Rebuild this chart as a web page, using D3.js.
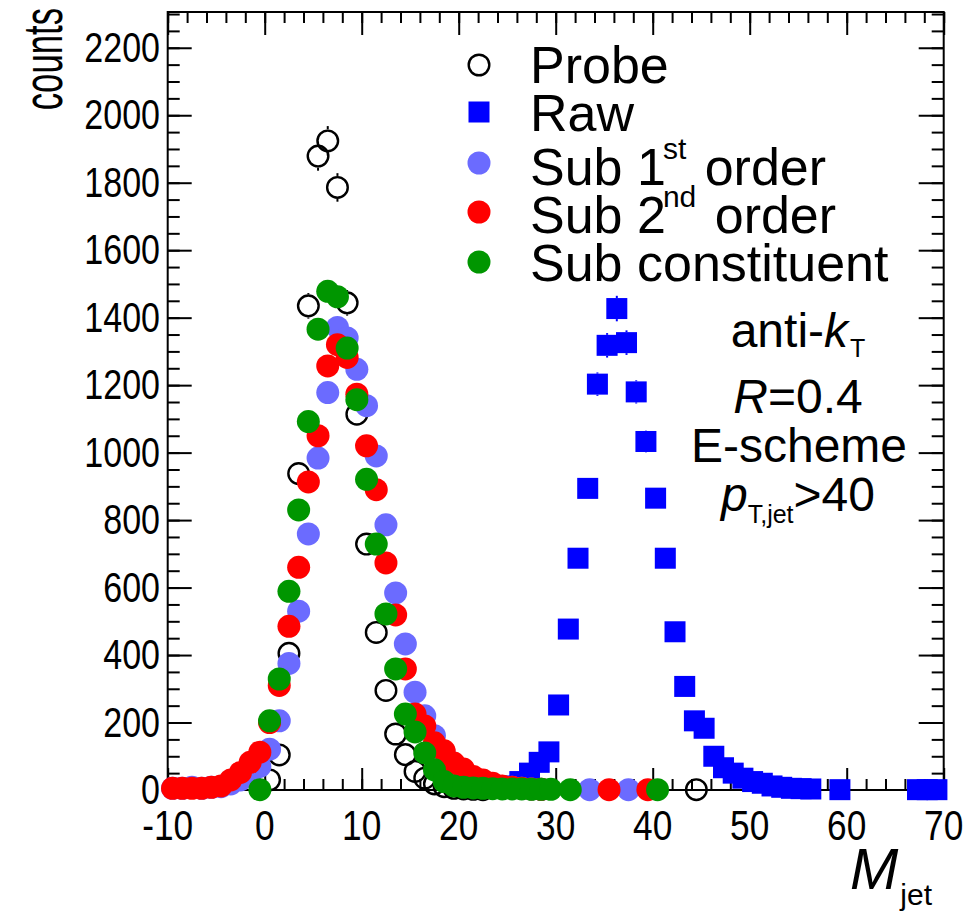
<!DOCTYPE html>
<html>
<head>
<meta charset="utf-8">
<script src="https://cdn.jsdelivr.net/npm/d3@7"></script>
<style>
body { margin: 0; background: #fff; }
text { font-family: "Liberation Sans", Arial, sans-serif; fill: #000; }
</style>
</head>
<body>
<svg id="chart" width="974" height="912"></svg>
<script>
// bin centres shared by probe and the three subtracted series
const binCenters = [-9.5, -8.5, -7.5, -6.5, -5.5, -4.5, -3.5, -2.5, -1.5, -0.5,
    0.5, 1.5, 2.5, 3.5, 4.5, 5.5, 6.5, 7.5, 8.5, 9.5,
    10.5, 11.5, 12.5, 13.5, 14.5, 15.5, 16.5, 17.5, 18.5, 19.5,
    20.5, 21.5, 22.5, 23.5, 24.5, 25.5, 26.5, 27.5, 28.5, 29.5,
    30.5, 31.5, 32.5, 33.5, 34.5, 35.5, 36.5, 37.5, 38.5, 39.5,
    40.5, 41.5, 42.5, 43.5, 44.5];

const probe = [null, null, null, null, null, null, null, null, null, null,
    30, 104, 405, 938, 1435, 1879, 1924, 1786, 1444, 1114,
    729, 467, 295, 166, 105, 55, 35, 18, 10, 5,
    3, 2, 1, null, null, null, null, null, null, null,
    null, null, null, null, null, null, null, null, null, null,
    null, null, null, null, 1];

const sub1st = [5, 5, 8, 5, 8, 10, 18, 30, 45, 70,
    121, 205, 375, 530, 759, 984, 1178, 1371, 1340, 1247,
    1139, 990, 786, 584, 433, 290, 220, 161, 111, 75,
    50, 35, 25, 15, 10, 8, 5, 3, 2, null,
    null, null, null, 1, null, null, null, 1, null, null,
    null, null, null, null, null];

const sub2nd = [5, 5, 5, 5, 8, 12, 30, 52, 82, 112,
    200, 310, 485, 660, 913, 1050, 1257, 1320, 1282, 1173,
    1020, 890, 673, 519, 359, 225, 190, 140, 116, 80,
    62, 40, 30, 20, 12, 8, 5, 3, 2, null,
    null, null, null, null, null, 1, null, null, null, 1,
    null, null, null, null, null];

const subConst = [null, null, null, null, null, null, null, null, null, 1,
    205, 329, 589, 830, 1092, 1366, 1478, 1462, 1310, 1157,
    921, 729, 522, 359, 225, 172, 110, 60, 25, 12,
    8, 6, 5, 4, 3, 3, 3, 2, 2, 2,
    null, 1, null, null, null, null, null, null, null, null,
    1, null, null, null, null];

// raw histogram sits on its own (shifted) grid
const rawX = [24.3, 25.3, 26.3, 27.3, 28.3, 29.3, 30.3, 31.3, 32.3, 33.3,
    34.3, 35.3, 36.3, 37.3, 38.3, 39.3, 40.3, 41.3, 42.3, 43.3,
    44.3, 45.3, 46.3, 47.3, 48.3, 49.3, 50.3, 51.3, 52.3, 53.3,
    54.3, 55.3, 56.3, 59.3, 67.3, 68.3, 69.3];
const raw = [5, 12, 25, 50, 82, 113, 252, 477, 687, 894,
    1203, 1318, 1427, 1326, 1180, 1033, 865, 687, 469, 307,
    205, 183, 100, 66, 50, 35, 25, 20, 12, 8,
    5, 4, 3, 1, 1, 1, 1];

const xMajor = [-10, 0, 10, 20, 30, 40, 50, 60, 70];
const yMajor = [0, 200, 400, 600, 800, 1000, 1200, 1400, 1600, 1800, 2000, 2200];

const legendItems = [
    {name: "Probe", kind: "open", color: "#000"},
    {name: "Raw", kind: "square", color: "#0000ff"},
    {name: "Sub 1", sup: "st", after: " order", kind: "dot", color: "#6b6bff"},
    {name: "Sub 2", sup: "nd", after: " order", kind: "dot", color: "#ff0000"},
    {name: "Sub constituent", kind: "dot", color: "#009600"}
];

const svg = d3.select("#chart");
const frameL = 167.7, frameR = 943.7, frameT = 12, frameB = 790;

const x = d3.scaleLinear().domain([-10, 70]).range([frameL, frameR]);
const y = d3.scaleLinear().domain([0, 2306]).range([frameB, frameT]);

const xMinor = d3.range(-10, 70.01, 2);
const yMinor = d3.range(0, 2306, 50);

// ticks, ROOT style: inside on all four sides
function tickAxis(axis, pos, vals, len) {
    let g = svg.append("g").attr("transform", pos)
        .call(axis.tickValues(vals).tickSize(-len).tickFormat(""));
    g.select(".domain").remove();
    g.selectAll(".tick line").attr("stroke", "#000").attr("stroke-width", 2);
    return g;
}
tickAxis(d3.axisBottom(x), `translate(0,${frameB})`, xMinor, 11);
tickAxis(d3.axisBottom(x), `translate(0,${frameB})`, xMajor, 22);
tickAxis(d3.axisTop(x), `translate(0,${frameT})`, xMinor, 11);
tickAxis(d3.axisTop(x), `translate(0,${frameT})`, xMajor, 23);
tickAxis(d3.axisLeft(y), `translate(${frameL},0)`, yMinor, 12);
tickAxis(d3.axisLeft(y), `translate(${frameL},0)`, yMajor, 24);
tickAxis(d3.axisRight(y), `translate(${frameR},0)`, yMinor, 12);
tickAxis(d3.axisRight(y), `translate(${frameR},0)`, yMajor, 25);

svg.append("rect")
    .attr("x", frameL).attr("y", frameT)
    .attr("width", frameR - frameL).attr("height", frameB - frameT)
    .attr("fill", "none").attr("stroke", "#000").attr("stroke-width", 2);

// tick labels
svg.append("g").selectAll("text").data(xMajor).enter().append("text")
    .attr("transform", d => `translate(${x(d)},840) scale(0.84,1)`)
    .attr("text-anchor", "middle")
    .style("font-size", "42px")
    .text(d => d);

svg.append("g").selectAll("text").data(yMajor).enter().append("text")
    .attr("transform", d => `translate(160,${y(d) + 14}) scale(0.81,1)`)
    .attr("text-anchor", "end")
    .style("font-size", "42px")
    .text(d => d);

// axis titles
svg.append("text")
    .attr("transform", "translate(62,8) rotate(-90) scale(0.62,1)")
    .attr("text-anchor", "end")
    .style("font-size", "56px")
    .text("counts");

let xt = svg.append("text").attr("x", 850).attr("y", 889).style("font-size", "58px");
xt.append("tspan").style("font-style", "italic").text("M");
xt.append("tspan").attr("dy", 16).attr("dx", 2).style("font-size", "30px").text("jet");

// error bars drawn outside the marker only, as ROOT does
function errorBars(xs, ys, color, gap) {
    let pts = xs.map((d, i) => ({x: d, y: ys[i]})).filter(d => d.y != null);
    let g = svg.append("g").attr("stroke", color).attr("stroke-width", 2);
    pts.forEach(d => {
        let cx = x(d.x), cy = y(d.y);
        let hi = y(d.y + Math.sqrt(d.y)), lo = y(Math.max(0, d.y - Math.sqrt(d.y)));
        if (cy - hi > gap) g.append("line").attr("x1", cx).attr("x2", cx).attr("y1", hi).attr("y2", cy - gap);
        if (lo - cy > gap) g.append("line").attr("x1", cx).attr("x2", cx).attr("y1", cy + gap).attr("y2", lo);
    });
}

function drawSeries(xs, ys, kind, color) {
    let pts = xs.map((d, i) => ({x: d, y: ys[i]})).filter(d => d.y != null);
    let g = svg.append("g");
    if (kind === "open") {
        g.selectAll("circle").data(pts).enter().append("circle")
            .attr("cx", d => x(d.x)).attr("cy", d => y(d.y)).attr("r", 10.3)
            .attr("fill", "none").attr("stroke", color).attr("stroke-width", 2.4);
    } else if (kind === "square") {
        g.selectAll("rect").data(pts).enter().append("rect")
            .attr("x", d => x(d.x) - 10.5).attr("y", d => y(d.y) - 10.5)
            .attr("width", 21).attr("height", 21).attr("fill", color);
    } else {
        g.selectAll("circle").data(pts).enter().append("circle")
            .attr("cx", d => x(d.x)).attr("cy", d => y(d.y)).attr("r", 11.5)
            .attr("fill", color);
    }
}

errorBars(binCenters, probe, "#000", 11.5);
drawSeries(binCenters, probe, "open", "#000");
errorBars(rawX, raw, "#0000ff", 10.5);
drawSeries(rawX, raw, "square", "#0000ff");
drawSeries(binCenters, sub1st, "dot", legendItems[2].color);
drawSeries(binCenters, sub2nd, "dot", legendItems[3].color);
drawSeries(binCenters, subConst, "dot", legendItems[4].color);

// legend
const legMarkY = [65, 112, 163, 212, 262];
const legTextY = [83, 131, 185, 233, 281];
legendItems.forEach((it, i) => {
    let cy = legMarkY[i];
    if (it.kind === "open") {
        svg.append("circle").attr("cx", 479).attr("cy", cy).attr("r", 10.3)
            .attr("fill", "none").attr("stroke", "#000").attr("stroke-width", 2.4);
    } else if (it.kind === "square") {
        svg.append("rect").attr("x", 468.5).attr("y", cy - 10.5)
            .attr("width", 21).attr("height", 21).attr("fill", it.color);
    } else {
        svg.append("circle").attr("cx", 479).attr("cy", cy).attr("r", 11.5).attr("fill", it.color);
    }
    let t = svg.append("text").attr("x", 530).attr("y", legTextY[i]).style("font-size", "52px");
    t.append("tspan").text(it.name);
    if (it.sup) {
        t.append("tspan").attr("dy", -26).attr("dx", -3).style("font-size", "30px").text(it.sup);
        t.append("tspan").attr("dy", 26).attr("dx", 4).text(it.after);
    }
});

// jet definition text
const info = svg.append("g").attr("text-anchor", "middle").style("font-size", "48px");
let l1 = info.append("text").attr("x", 798).attr("y", 347);
l1.append("tspan").text("anti-");
l1.append("tspan").style("font-style", "italic").text("k");
l1.append("tspan").attr("dy", 10).attr("dx", 2).style("font-size", "25px").text("T");
let l2 = info.append("text").attr("x", 798).attr("y", 413);
l2.append("tspan").style("font-style", "italic").text("R");
l2.append("tspan").text("=0.4");
info.append("text").attr("x", 799).attr("y", 462).text("E-scheme");
let l4 = info.append("text").attr("x", 798).attr("y", 511);
l4.append("tspan").style("font-style", "italic").text("p");
l4.append("tspan").attr("dy", 12).style("font-size", "25px").text("T,jet");
l4.append("tspan").attr("dy", -12).text(">40");
</script>
</body>
</html>
